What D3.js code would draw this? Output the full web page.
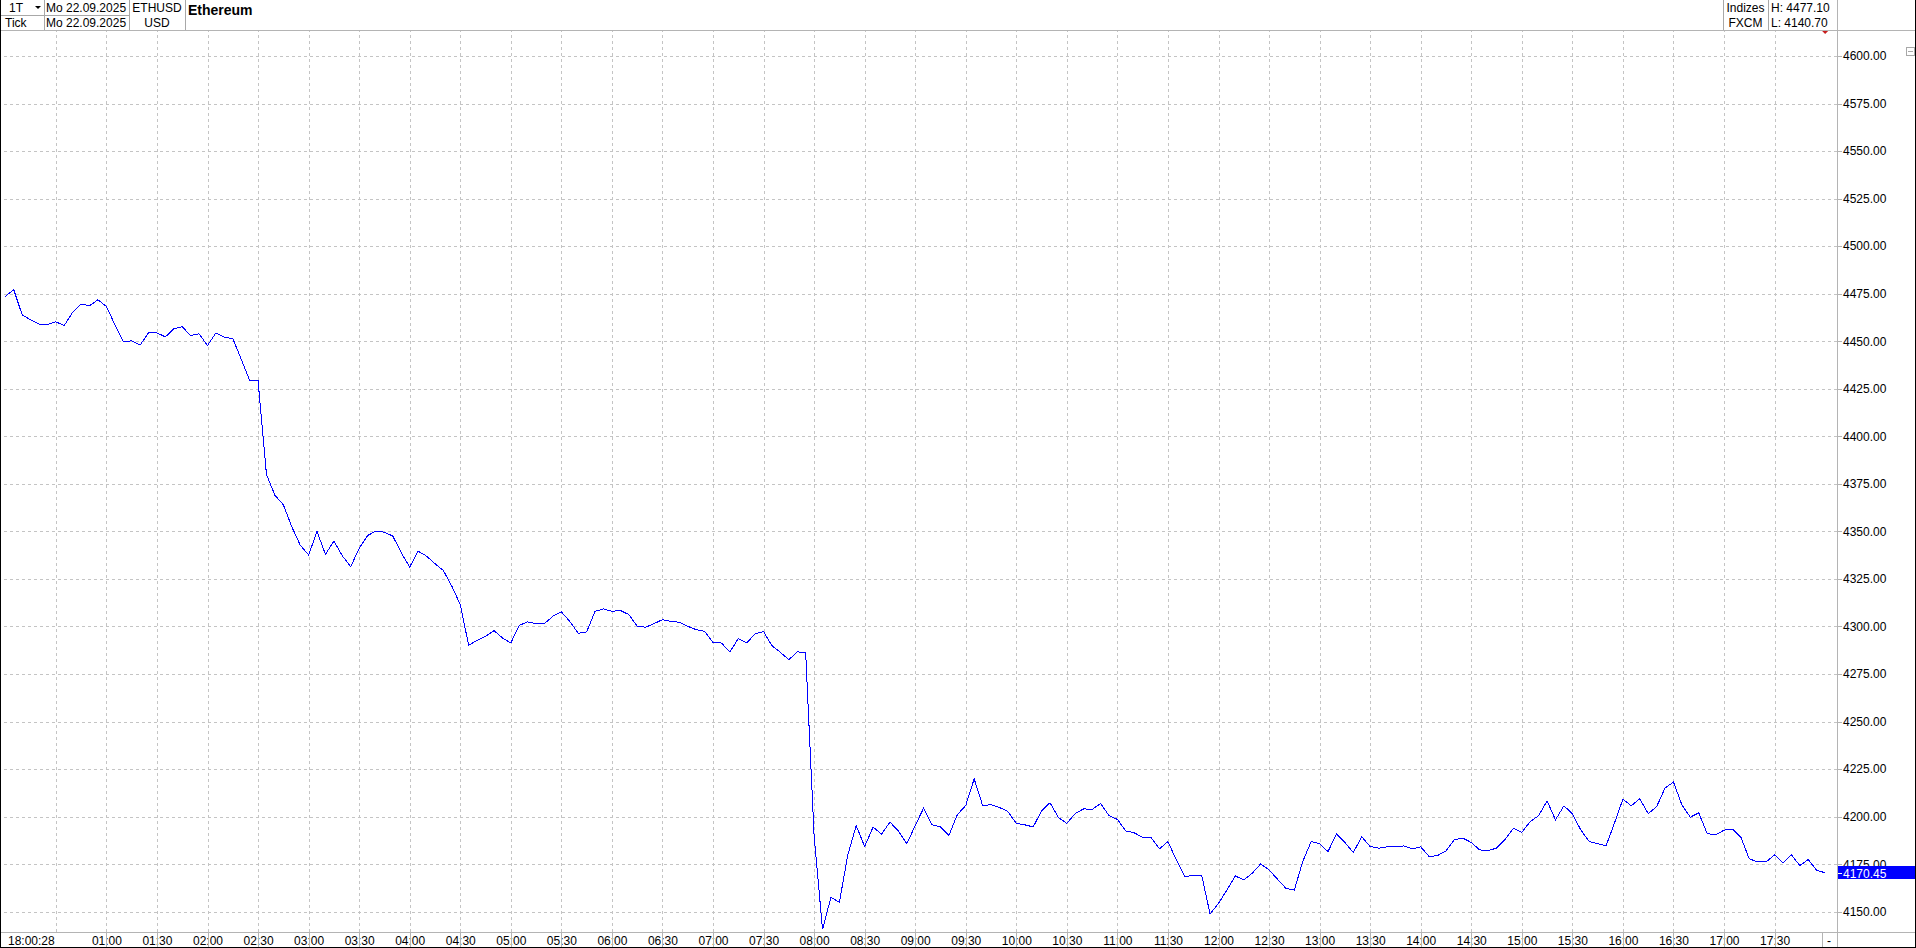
<!DOCTYPE html>
<html>
<head>
<meta charset="utf-8">
<script src="https://cdn.jsdelivr.net/npm/d3@7"></script>
<style>
  body { margin: 0; background: #fff; }
  svg { display: block; font-family: "Liberation Sans", Arial, sans-serif; }
  .grid line { stroke: #c4c4c4; stroke-dasharray: 3,3; shape-rendering: crispEdges; }
  .grid path, .axis path { display: none; }
  .axis text { font-size: 12px; fill: #000; }
  .axis line { stroke: #b4b4b4; shape-rendering: crispEdges; }
</style>
</head>
<body>
<script>
var width = 1916, height = 948;
var plotRight = 1837, plotTop = 30, plotBottom = 932;

var day = '2025-09-22';
var symbol = 'ETHUSD', currency = 'USD', title = 'Ethereum';
var period = '1T', barType = 'Tick', dateLabel = 'Mo 22.09.2025';
var market = 'Indizes', source = 'FXCM';
var high = 4477.10, low = 4140.70, last = 4170.45;
var firstLabel = '18:00:28';

// 5-minute closes, 00:00 - 05:55
var closesNight = [
  4473.6, 4477.1, 4463.9, 4461.3, 4459.0, 4458.8, 4460.2, 4458.3, 4465.3, 4469.5, 4468.7, 4471.8,
  4468.3, 4458.8, 4449.8, 4450.2, 4448.0, 4454.4, 4454.4, 4452.3, 4456.5, 4457.6, 4453.0, 4453.9,
  4447.7, 4454.4, 4452.1, 4451.4, 4440.6, 4429.5, 4429.2, 4379.9, 4369.0, 4364.0, 4352.5, 4342.8,
  4337.6, 4349.9, 4337.9, 4344.9, 4337.2, 4331.4, 4341.1, 4347.8, 4350.2, 4349.6, 4347.5, 4338.8,
  4331.2, 4339.6, 4337.0, 4333.0, 4329.4, 4321.2, 4311.5, 4290.1, 4292.7, 4294.8, 4297.8, 4294.0,
  4291.3, 4300.6, 4302.4, 4301.5, 4301.5, 4305.4, 4307.7, 4302.7, 4296.4, 4297.1, 4308.0, 4309.2
];
// 06:00 - 11:55
var closesMorning = [
  4308.0, 4308.4, 4306.3, 4300.1, 4299.6, 4301.5, 4303.6, 4302.7, 4302.2, 4300.1, 4298.3, 4297.5,
  4291.5, 4291.3, 4286.6, 4293.6, 4291.3, 4296.2, 4297.3, 4289.9, 4286.4, 4282.5, 4286.7, 4286.1,
  4190.0, 4140.7, 4157.6, 4154.9, 4179.9, 4195.2, 4184.3, 4194.5, 4190.8, 4197.1, 4192.5, 4185.7,
  4195.3, 4204.5, 4195.7, 4194.6, 4190.1, 4201.0, 4205.9, 4219.9, 4205.9, 4206.2, 4204.8, 4202.7,
  4196.4, 4195.7, 4194.6, 4202.9, 4207.3, 4199.6, 4196.4, 4201.7, 4204.1, 4203.8, 4206.9, 4200.6,
  4198.5, 4192.5, 4191.5, 4189.0, 4189.0, 4183.1, 4186.9, 4177.2, 4168.5, 4169.0, 4169.2, 4148.8
];
// 12:00 - 18:00
var closesAfternoon = [
  4154.4, 4161.4, 4168.8, 4166.7, 4170.2, 4175.1, 4172.0, 4167.1, 4162.3, 4161.4, 4176.4, 4186.9,
  4185.7, 4181.6, 4190.9, 4186.4, 4181.1, 4189.4, 4184.3, 4183.4, 4184.1, 4184.1, 4184.6, 4183.0,
  4184.1, 4179.0, 4179.5, 4182.0, 4187.8, 4188.7, 4186.4, 4182.5, 4182.2, 4183.4, 4188.0, 4193.9,
  4191.8, 4197.4, 4200.5, 4208.3, 4198.3, 4205.7, 4201.5, 4193.0, 4186.9, 4185.8, 4184.6, 4196.6,
  4209.2, 4205.7, 4209.4, 4201.6, 4205.2, 4215.0, 4218.2, 4206.2, 4199.7, 4202.0, 4191.1, 4190.4,
  4192.9, 4193.4, 4189.2, 4177.8, 4176.2, 4176.2, 4179.9, 4175.7, 4179.9, 4174.3, 4177.4, 4171.8,
  4170.45
];

var yTicks = [4150, 4175, 4200, 4225, 4250, 4275, 4300, 4325, 4350, 4375, 4400,
              4425, 4450, 4475, 4500, 4525, 4550, 4575, 4600];
var xLabels = ['01:00', '01:30', '02:00', '02:30', '03:00', '03:30', '04:00', '04:30', '05:00',
               '05:30', '06:00', '06:30', '07:00', '07:30', '08:00', '08:30', '09:00', '09:30',
               '10:00', '10:30', '11:00', '11:30', '12:00', '12:30', '13:00', '13:30', '14:00',
               '14:30', '15:00', '15:30', '16:00', '16:30', '17:00', '17:30'];
var xGrid = ['00:30'].concat(xLabels);

var parse = d3.timeParse('%Y-%m-%d %H:%M');
var t0 = parse(day + ' 00:00'), t1 = parse(day + ' 18:00');
var closes = closesNight.concat(closesMorning, closesAfternoon);
var data = closes.map(function(c, i) { return {t: d3.timeMinute.offset(t0, i * 5), v: c}; });

var x = d3.scaleTime().domain([t0, t1]).range([5.3, 1825.1]);
var y = d3.scaleLinear().domain([4150, 4600]).range([911.7, 56]);

var svg = d3.select('body').append('svg')
    .attr('width', width)
    .attr('height', height);

// grid
svg.append('g').attr('class', 'grid')
    .attr('transform', 'translate(' + plotRight + ',0)')
    .call(d3.axisLeft(y).tickValues(yTicks).tickSize(plotRight).tickFormat(''));
svg.append('g').attr('class', 'grid')
    .attr('transform', 'translate(0,' + plotBottom + ')')
    .call(d3.axisBottom(x)
      .tickValues(xGrid.map(function(s) { return parse(day + ' ' + s); }))
      .tickSize(-(plotBottom - plotTop)).tickFormat(''));

// frame lines
var frame = svg.append('g').attr('stroke', '#b4b4b4').attr('shape-rendering', 'crispEdges');
frame.append('line').attr('x1', 0).attr('x2', width).attr('y1', plotTop + 0.5).attr('y2', plotTop + 0.5);
frame.append('line').attr('x1', 0).attr('x2', width).attr('y1', plotBottom + 0.5).attr('y2', plotBottom + 0.5);
frame.append('line').attr('x1', plotRight + 0.5).attr('x2', plotRight + 0.5).attr('y1', 0).attr('y2', height);
frame.append('line').attr('x1', 1822.5).attr('x2', 1822.5).attr('y1', plotBottom).attr('y2', height);

// header cells
var hdr = svg.append('g').attr('stroke', '#a8a8a8').attr('shape-rendering', 'crispEdges');
[44.5, 129.5, 185.5, 1723.5, 1768.5].forEach(function(px) {
  hdr.append('line').attr('x1', px).attr('x2', px).attr('y1', 0).attr('y2', plotTop);
});
hdr.append('line').attr('x1', 0).attr('x2', 129.5).attr('y1', 15.5).attr('y2', 15.5);

var htext = svg.append('g').style('font-size', '12px').attr('fill', '#000');
htext.append('text').attr('x', 16).attr('y', 12).attr('text-anchor', 'middle').text(period);
htext.append('path').attr('d', 'M35,6L41,6L38,9Z');
htext.append('text').attr('x', 5).attr('y', 27).text(barType);
htext.append('text').attr('x', 46).attr('y', 12).text(dateLabel);
htext.append('text').attr('x', 46).attr('y', 27).text(dateLabel);
htext.append('text').attr('x', 157).attr('y', 12).attr('text-anchor', 'middle').text(symbol);
htext.append('text').attr('x', 157).attr('y', 27).attr('text-anchor', 'middle').text(currency);
htext.append('text').attr('x', 188).attr('y', 15)
    .style('font-size', '14px').style('font-weight', 'bold').text(title);
htext.append('text').attr('x', 1745.5).attr('y', 12).attr('text-anchor', 'middle').text(market);
htext.append('text').attr('x', 1745.5).attr('y', 27).attr('text-anchor', 'middle').text(source);
htext.append('text').attr('x', 1771).attr('y', 12).text('H: ' + high.toFixed(2));
htext.append('text').attr('x', 1771).attr('y', 27).text('L: ' + low.toFixed(2));

// y axis
svg.append('g').attr('class', 'axis')
    .attr('transform', 'translate(' + plotRight + ',0)')
    .call(d3.axisRight(y).tickValues(yTicks).tickSize(5).tickPadding(1).tickFormat(d3.format('.2f')));

// x axis labels, then the tick bars drawn over them
var labelTimes = xLabels.map(function(s) { return parse(day + ' ' + s); });
svg.append('g').attr('class', 'axis')
    .attr('transform', 'translate(0,' + plotBottom + ')')
    .call(d3.axisBottom(x).tickValues(labelTimes).tickSize(0).tickPadding(4).tickFormat(d3.timeFormat('%H:%M')));
svg.append('g').attr('class', 'axis')
    .attr('transform', 'translate(0,' + plotBottom + ')')
    .call(d3.axisBottom(x).tickValues(labelTimes).tickSize(height - plotBottom).tickFormat(''));
svg.append('text').attr('x', 8).attr('y', 944.5).style('font-size', '12px').text(firstLabel);
svg.append('text').attr('x', 1829).attr('y', 944.5).attr('text-anchor', 'middle').style('font-size', '12px').text('-');

// price line
svg.append('path')
    .datum(data)
    .attr('fill', 'none')
    .attr('stroke', '#0000ff')
    .attr('stroke-width', 1)
    .attr('shape-rendering', 'crispEdges')
    .attr('d', d3.line().x(function(d) { return x(d.t); }).y(function(d) { return y(d.v); }));

// last price marker
var ly = y(last);
svg.append('rect').attr('x', plotRight + 1).attr('y', Math.round(ly) - 7)
    .attr('width', width - plotRight - 2).attr('height', 13).attr('fill', '#0000ff');
svg.append('line').attr('x1', plotRight + 1).attr('x2', plotRight + 5)
    .attr('y1', Math.round(ly) + 0.5).attr('y2', Math.round(ly) + 0.5)
    .attr('stroke', '#fff').attr('shape-rendering', 'crispEdges');
svg.append('text').attr('x', plotRight + 6).attr('y', Math.round(ly) + 5)
    .attr('fill', '#fff').style('font-size', '12px').text(last.toFixed(2));

var lx = x(data[data.length - 1].t);
svg.append('path').attr('d', 'M' + (lx - 3) + ',31L' + (lx + 3) + ',31L' + lx + ',34Z').attr('fill', '#c81e1e');

// collapse box
svg.append('rect').attr('x', 1906.5).attr('y', 47.5).attr('width', 8).attr('height', 8)
    .attr('fill', 'none').attr('stroke', '#a8a8a8').attr('shape-rendering', 'crispEdges');
svg.append('line').attr('x1', 1908).attr('x2', 1913).attr('y1', 51.5).attr('y2', 51.5)
    .attr('stroke', '#a8a8a8').attr('shape-rendering', 'crispEdges');

// outer border
var border = svg.append('g').attr('stroke', '#000').attr('shape-rendering', 'crispEdges');
border.append('line').attr('x1', 0.5).attr('x2', 0.5).attr('y1', 0).attr('y2', height);
border.append('line').attr('x1', width - 0.5).attr('x2', width - 0.5).attr('y1', 0).attr('y2', height);
border.append('line').attr('x1', 0).attr('x2', width).attr('y1', height - 0.5).attr('y2', height - 0.5);
</script>
</body>
</html>
